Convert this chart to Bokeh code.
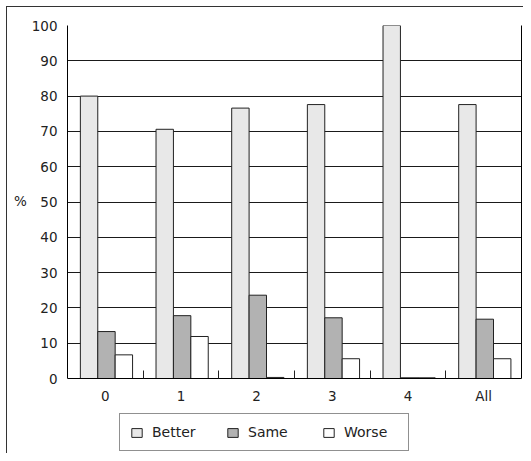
from bokeh.plotting import figure
from bokeh.models import ColumnDataSource, FixedTicker, Legend, LegendItem, Range1d, LinearAxis
from bokeh.transform import dodge
from bokeh.embed import file_html
from bokeh.resources import INLINE

categories = ["0", "1", "2", "3", "4", "All"]
better = [80.0, 70.6, 76.6, 77.6, 100.0, 77.6]
same = [13.3, 17.8, 23.6, 17.2, 0.2, 16.8]
worse = [6.7, 11.9, 0.3, 5.6, 0.2, 5.6]
y_ticks = [0, 10, 20, 30, 40, 50, 60, 70, 80, 90, 100]

pos = [i + 0.5 for i in range(len(categories))]
src = ColumnDataSource(dict(x=pos, better=better, same=same, worse=worse))

FONT = "DejaVu Sans"
TXT = "#222222"

# frame spans from the 100 line (y=25) down to the legend bottom (y=452);
# value 0 sits at y=378 -> lower limit of the range below zero
Y_LOW = -(452 - 378) / ((378 - 25) / 100.0)

p = figure(width=523, height=453, output_backend="svg", toolbar_location=None,
           x_range=Range1d(0, len(categories)), y_range=Range1d(Y_LOW, 100),
           min_border_left=67, min_border_right=2, min_border_top=25, min_border_bottom=1)
p.styles = {
    "background": "linear-gradient(#333333, #333333) 6px 6px / 1px 100% no-repeat, "
                  "linear-gradient(#333333, #333333) 6px 6px / 100% 1px no-repeat, white"
}

p.outline_line_color = None
p.background_fill_color = "white"
p.border_fill_alpha = 0

p.xgrid.grid_line_color = None
p.ygrid.grid_line_color = "#1a1a1a"
p.ygrid.grid_line_width = 1
p.ygrid.ticker = FixedTicker(ticks=y_ticks)

W = 0.23
r1 = p.vbar(x=dodge("x", -0.215, range=p.x_range), top="better", width=W, source=src,
            fill_color="#e8e8e8", line_color="#222222", line_width=1)
r2 = p.vbar(x=dodge("x", 0.015, range=p.x_range), top="same", width=W, source=src,
            fill_color="#b2b2b2", line_color="#222222", line_width=1)
r3 = p.vbar(x=dodge("x", 0.245, range=p.x_range), top="worse", width=W, source=src,
            fill_color="#ffffff", line_color="#222222", line_width=1)

# x axis at value 0: labels at centers, short inner ticks at group boundaries
xa = p.xaxis[0]
xa.fixed_location = 0
xa.ticker = FixedTicker(ticks=pos, minor_ticks=[float(i) for i in range(1, len(categories))])
xa.major_label_overrides = {p_: c for p_, c in zip(pos, categories)}
xa.major_tick_in = 0
xa.major_tick_out = 0
xa.minor_tick_in = 8
xa.minor_tick_out = 0
xa.minor_tick_line_color = "#222222"
xa.axis_line_color = "black"
xa.major_label_standoff = 9
xa.major_label_text_font = FONT
xa.major_label_text_font_size = "13.5px"
xa.major_label_text_color = TXT

ya = p.yaxis[0]
ya.bounds = (0, 100)
ya.ticker = FixedTicker(ticks=y_ticks)
ya.major_tick_in = 0
ya.major_tick_out = 0
ya.minor_tick_line_color = None
ya.axis_line_color = "black"
ya.major_label_standoff = 10
ya.major_label_text_font = FONT
ya.major_label_text_font_size = "13.5px"
ya.major_label_text_color = TXT
# the label is centred on the whole frame; trailing empty lines lift the "%"
# to the middle of the 0-100 box
ya.axis_label = "%\n\n\n\n"
ya.axis_label_orientation = "horizontal"
ya.axis_label_standoff = 2
ya.axis_label_text_font = FONT
ya.axis_label_text_font_style = "normal"
ya.axis_label_text_font_size = "13.5px"
ya.axis_label_text_color = TXT

# right edge of the plot box
ra = LinearAxis(bounds=(0, 100), ticker=FixedTicker(ticks=[]))
ra.major_tick_in = 0
ra.major_tick_out = 0
ra.minor_tick_line_color = None
ra.axis_line_color = "black"
ra.major_label_text_font_size = "0px"
p.add_layout(ra, "right")

legend = Legend(items=[LegendItem(label="Better", renderers=[r1]),
                       LegendItem(label="Same", renderers=[r2]),
                       LegendItem(label="Worse", renderers=[r3])],
                orientation="horizontal", location=(52, 1))
legend.glyph_width = 13
legend.glyph_height = 11
legend.label_standoff = 9
legend.label_width = 54
legend.label_height = 16
legend.spacing = 20
legend.padding = 10
legend.margin = 0
legend.border_line_color = "#222222"
legend.border_line_width = 1
legend.label_text_font = FONT
legend.label_text_font_size = "14px"
legend.label_text_color = TXT
legend.background_fill_color = "white"
legend.background_fill_alpha = 1
p.add_layout(legend, "center")

open("out.html", "w").write(file_html(p, INLINE))
